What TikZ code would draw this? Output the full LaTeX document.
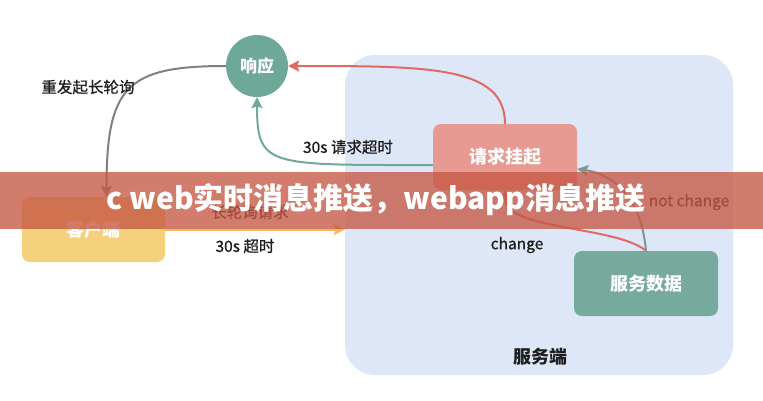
\documentclass[tikz,border=0pt]{standalone}
\usepackage{fontspec}
\setmainfont{Noto Sans CJK SC}
\newfontfamily\labelfont{Noto Sans CJK SC}[FakeBold=0.8]
\usetikzlibrary{arrows.meta}
\definecolor{tealc}{RGB}{110,168,152}
\definecolor{hangc}{RGB}{232,153,145}
\definecolor{datac}{RGB}{118,170,156}
\definecolor{clientc}{RGB}{245,208,125}
\definecolor{regionc}{RGB}{221,231,248}
\definecolor{redarr}{RGB}{226,104,98}
\definecolor{tealarr}{RGB}{112,170,150}
\definecolor{grayarr}{RGB}{128,128,128}
\definecolor{orangearr}{RGB}{245,185,92}
\definecolor{notarr}{RGB}{125,150,145}
\definecolor{bannerc}{RGB}{198,88,68}
\definecolor{labelc}{RGB}{30,30,30}
\begin{document}
\begin{tikzpicture}[x=1pt,y=-1pt,
  box/.style={rectangle,rounded corners=8pt,inner sep=0pt,text=white,font=\fontsize{18}{20}\selectfont\bfseries},
  lbl/.style={text=labelc,font=\labelfont\fontsize{15.5}{17}\selectfont,inner sep=0pt},
  conn/.style={line width=2pt,-{Stealth[length=11pt,width=11pt,inset=2pt]}}]
\useasboundingbox (0,0) rectangle (763,400);
\fill[white] (0,0) rectangle (763,400);
% server region
\node[rectangle,rounded corners=30pt,fill=regionc,minimum width=388pt,minimum height=320pt,inner sep=0pt] (server) at (539,215) {};
\node[text=labelc,font=\fontsize{18}{20}\selectfont\bfseries,inner sep=0pt] (srvlbl) at (540,357) {服务端};
% nodes
\node[circle,fill=tealc,minimum size=62pt,inner sep=0pt,text=white,font=\fontsize{17}{20}\selectfont\bfseries] (resp) at (257,66) {响应};
\node[box,fill=hangc,minimum width=144pt,minimum height=66pt] (hang) at (505,157) {请求挂起};
\node[box,fill=datac,minimum width=144pt,minimum height=65pt] (data) at (646,283.5) {服务数据};
\node[box,fill=clientc,minimum width=143pt,minimum height=65pt] (client) at (93.5,229.5) {客户端};
% connectors
\draw[conn,redarr] (hang.north) .. controls +(0,-58) and +(140,0) .. (resp.east);
\draw[conn,tealarr] ([yshift=-8pt]hang.west) .. controls +(-165,0) and +(0,70) .. (resp.south);
\draw[conn,grayarr] (resp.west) .. controls +(-100,0) and +(0,-110) .. ([xshift=13pt]client.north);
\draw[conn,orangearr] (client.east) -- (client.east -| server.west);
\draw[conn,redarr] (data.north) .. controls +(-30,-25) and +(0,40) .. (hang.south);
\draw[conn,notarr] (data.north) .. controls +(-5,-55) and +(35,5) .. ([yshift=-12pt]hang.east);
% labels
\node[lbl] (l1) at (88,87) {重发起长轮询};
\node[lbl] (l2) at (348,147) {30s 请求超时};
\node[lbl] (l3) at (250,212) {长轮询请求};
\node[lbl] (l4) at (245,246) {30s 超时};
\node[lbl] (l5) at (517,245) {change};
\node[lbl] (l6) at (689,202) {not change};
% banner
\fill[bannerc,opacity=0.78] (0,172) rectangle (763,229);
\node[text=white,font=\fontsize{30}{33}\selectfont\bfseries,inner sep=0pt] (banner) at (376,200) {c web实时消息推送，webapp消息推送};
\end{tikzpicture}
\end{document}
